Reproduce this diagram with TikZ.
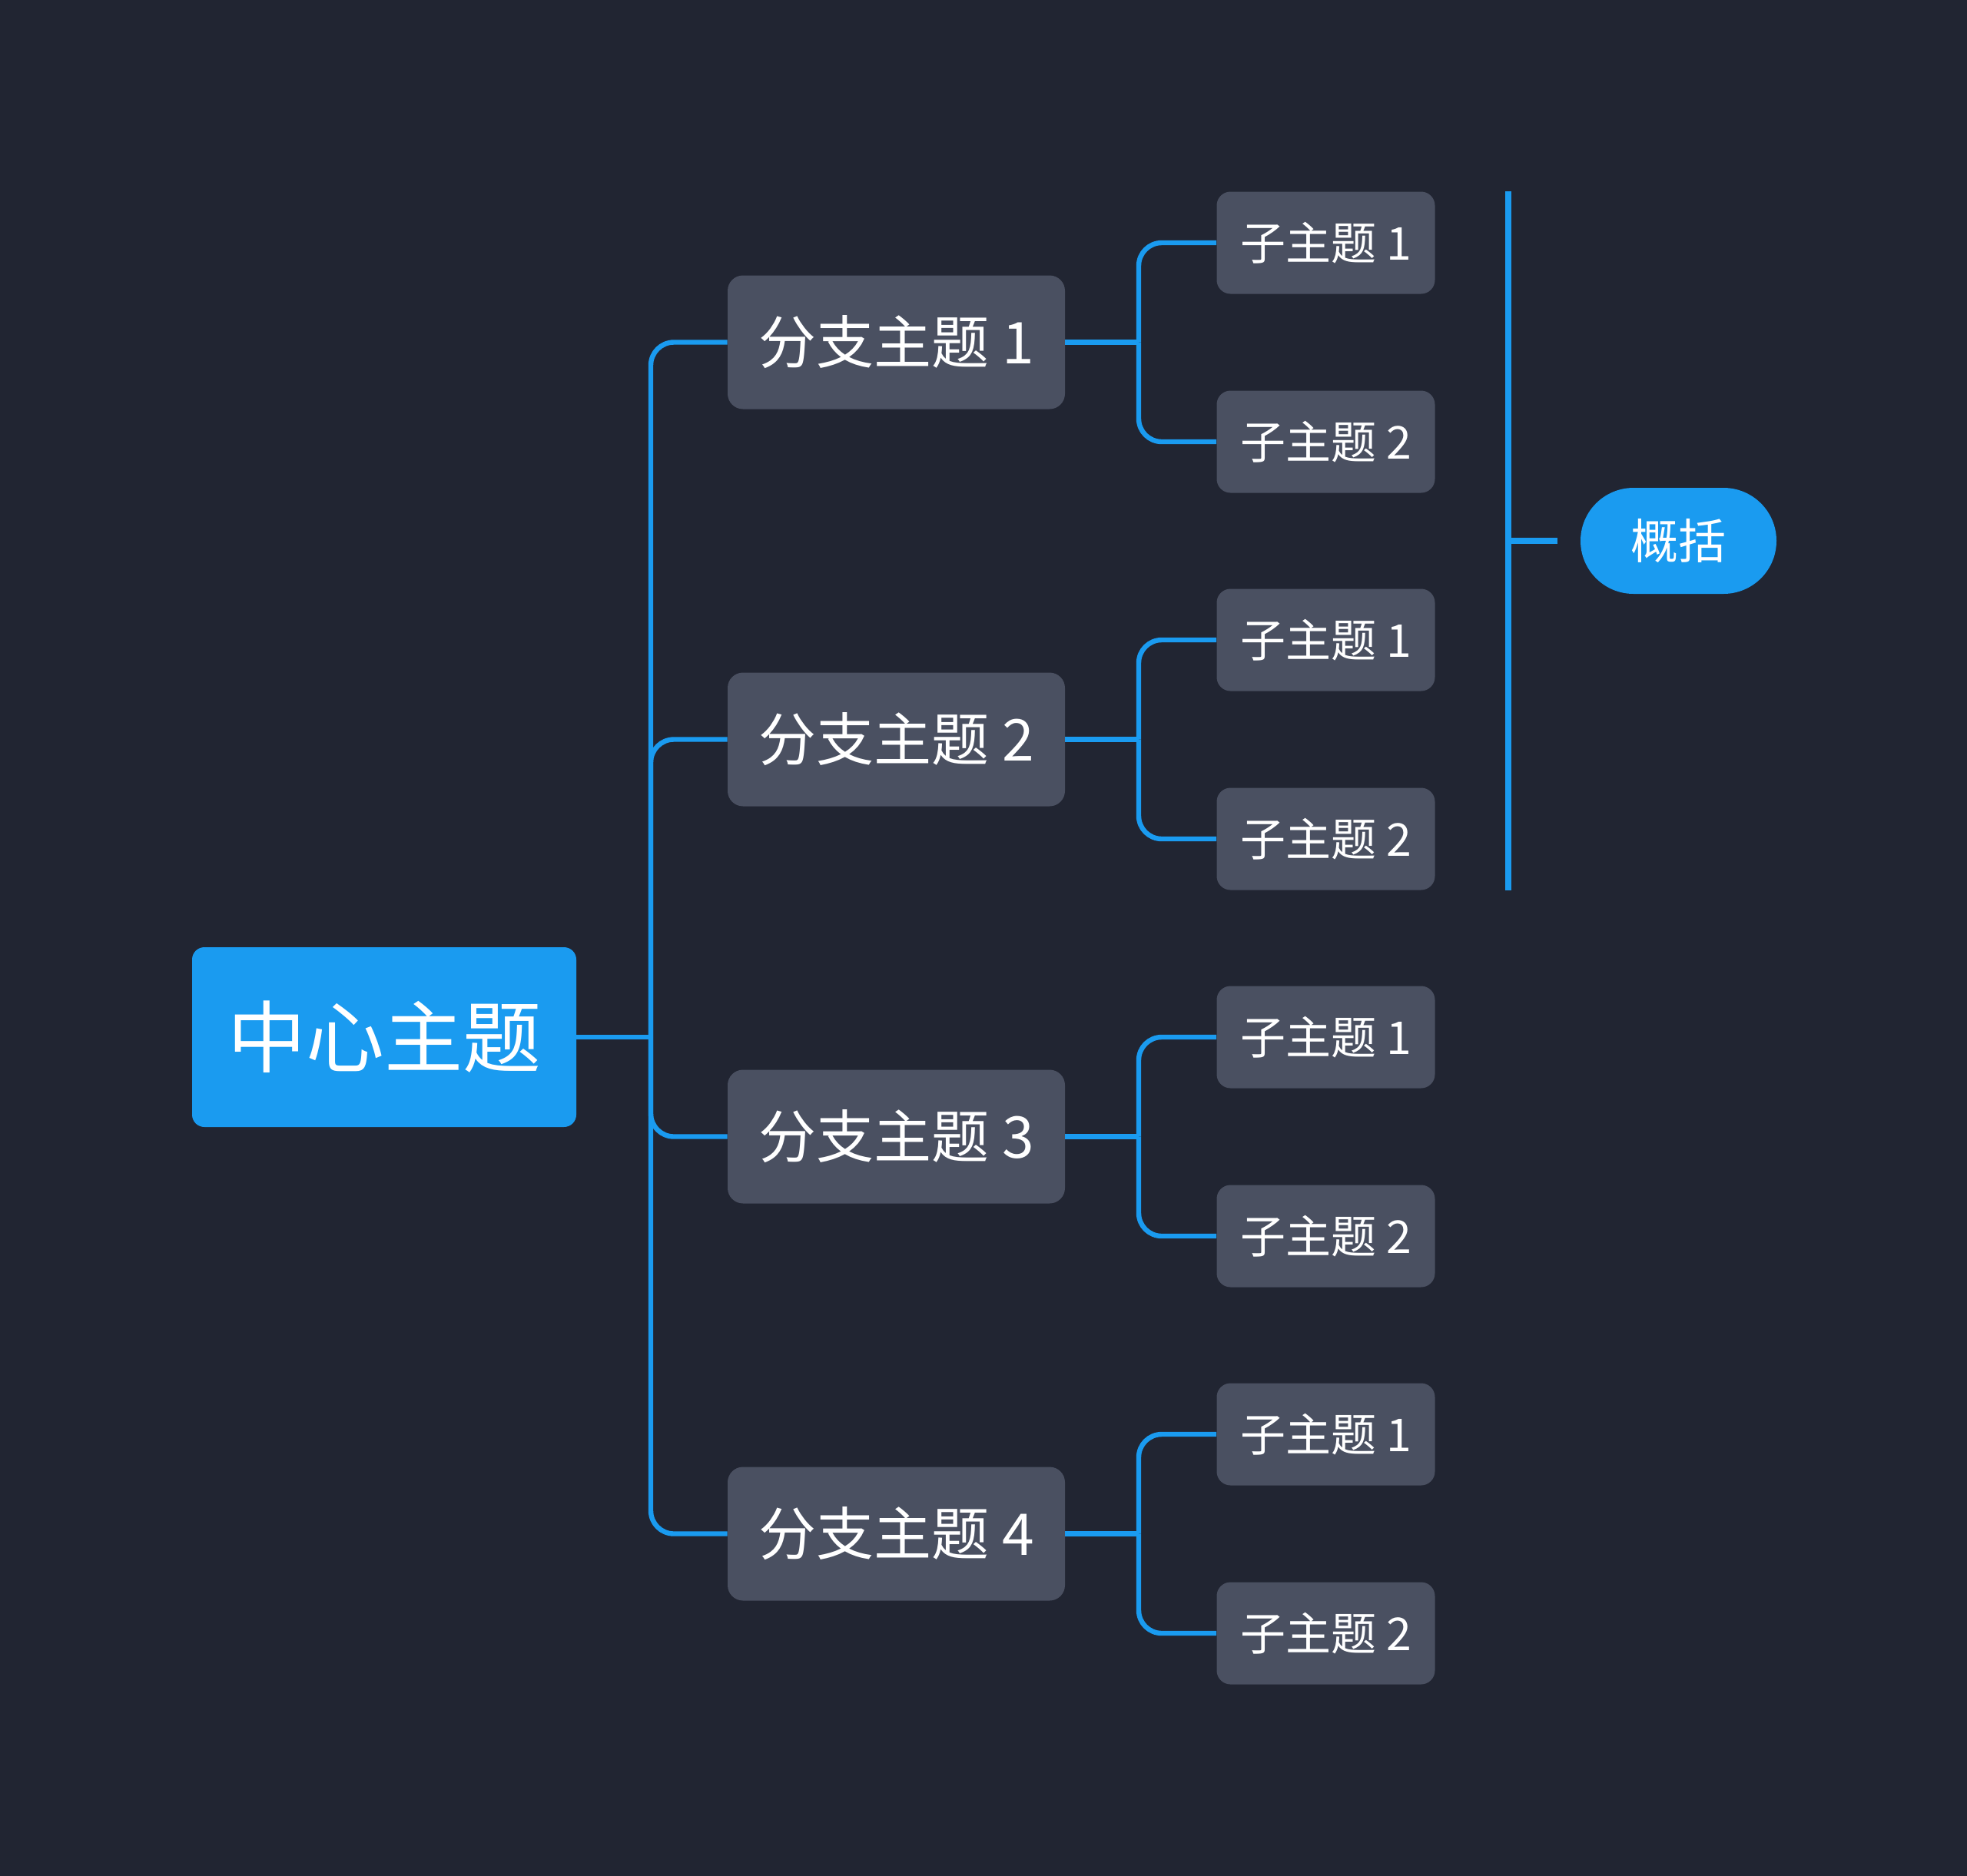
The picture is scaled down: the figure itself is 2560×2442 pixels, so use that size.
\documentclass[tikz,border=0pt]{standalone}
\usepackage{fontspec}
\newfontfamily\cjk{Noto Sans CJK SC}
\definecolor{bgc}{HTML}{212532}
\definecolor{nodegray}{HTML}{4A5061}
\definecolor{mblue}{HTML}{1A9BF0}
\begin{document}
\begin{tikzpicture}[x=0.5pt,y=-0.5pt,
  centralbox/.style={fill=mblue,rounded corners=8pt,minimum width=250pt,minimum height=117pt,inner sep=0pt,text=white,font=\cjk\fontsize{51pt}{51pt}\selectfont},
  branchbox/.style={fill=nodegray,rounded corners=10pt,minimum width=219.5pt,minimum height=87pt,inner sep=0pt,text=white,font=\cjk\fontsize{37.5pt}{37.5pt}\selectfont},
  subbox/.style={fill=nodegray,rounded corners=9pt,minimum width=142pt,minimum height=66.5pt,inner sep=0pt,text=white,font=\cjk\fontsize{29.5pt}{29.5pt}\selectfont},
  sumbox/.style={fill=mblue,rounded corners=34.5pt,minimum width=127.5pt,minimum height=69pt,inner sep=0pt,text=white,font=\cjk\fontsize{31pt}{31pt}\selectfont},
  link/.style={draw=mblue,line width=3.2pt,rounded corners=15pt},
  bracketline/.style={draw=mblue,line width=3.6pt}]
\fill[bgc] (0,0) rectangle (2560,2442);
\useasboundingbox (0,0) rectangle (2560,2442);

\coordinate (tx) at (847,0);
\coordinate (sx) at (1482,0);
\coordinate (bx) at (1963,0);

\node[centralbox] (c) at (500,1350) {中心主题};

\node[branchbox] (b1) at (1166.5,445.5) {分支主题 1};
\node[branchbox] (b2) at (1166.5,962.5) {分支主题 2};
\node[branchbox] (b3) at (1166.5,1479.5) {分支主题 3};
\node[branchbox] (b4) at (1166.5,1996.5) {分支主题 4};

\node[subbox] (s11) at (1725.5,316) {子主题 1};
\node[subbox] (s12) at (1725.5,575) {子主题 2};
\node[subbox] (s21) at (1725.5,833) {子主题 1};
\node[subbox] (s22) at (1725.5,1092) {子主题 2};
\node[subbox] (s31) at (1725.5,1350) {子主题 1};
\node[subbox] (s32) at (1725.5,1609) {子主题 2};
\node[subbox] (s41) at (1725.5,1867) {子主题 1};
\node[subbox] (s42) at (1725.5,2126) {子主题 2};

\node[sumbox] (sum) at (2184.5,704) {概括};

% central to trunk
\coordinate (tj) at (tx |- c.east);
\draw[link] (c.east) -- (tj);
\foreach \b in {b1,b2,b3,b4}{
  \draw[link] (tj) -- (tx |- \b.west) -- (\b.west);
}
% branch to subs
\foreach \b in {b1,b2,b3,b4}{
  \draw[link] (\b.east) -- (sx |- \b.east);
}
\foreach \b/\s in {b1/s11,b1/s12,b2/s21,b2/s22,b3/s31,b3/s32,b4/s41,b4/s42}{
  \draw[link] (sx |- \b.east) -- (sx |- \s.west) -- (\s.west);
}
% summary bracket
\draw[bracketline] (s11.north -| bx) -- (s22.south -| bx);
\coordinate (tk) at (2027,704);
\draw[bracketline] (bx |- sum) -- (tk);
\end{tikzpicture}
\end{document}
